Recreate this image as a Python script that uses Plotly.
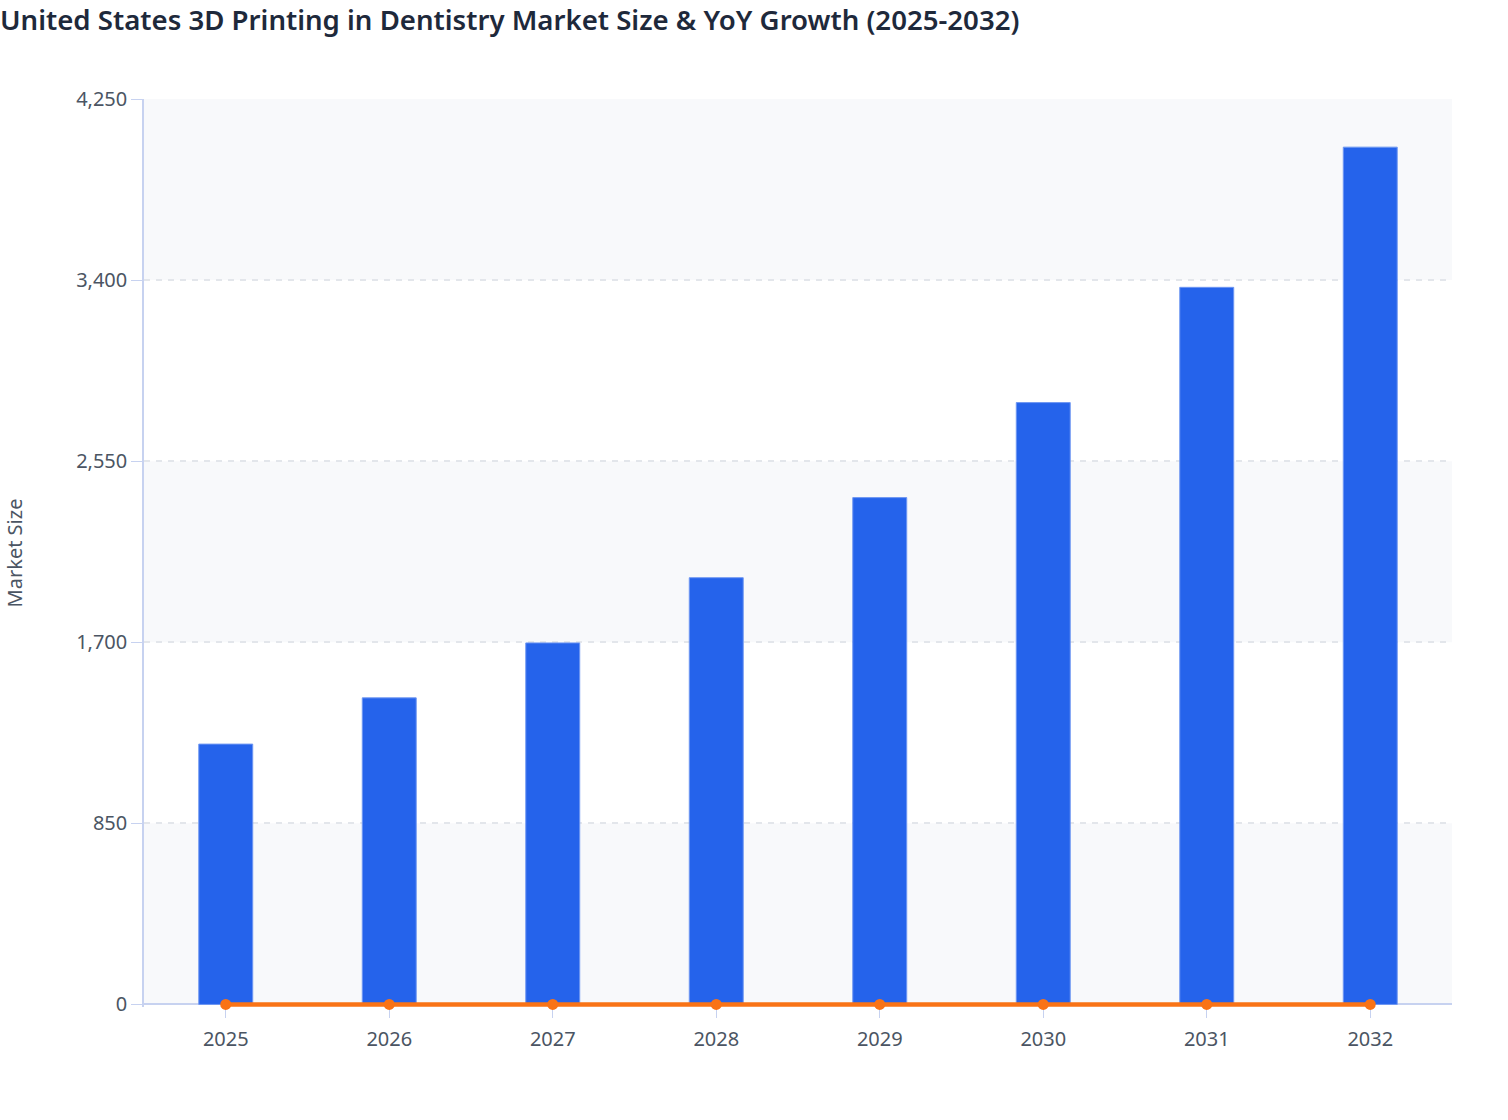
import plotly.graph_objects as go

# chart data
years = ["2025", "2026", "2027", "2028", "2029", "2030", "2031", "2032"]
market_size = [1222, 1439, 1697, 2003, 2379, 2825, 3366, 4024]
yoy_growth = [0, 0.178, 0.179, 0.180, 0.188, 0.187, 0.191, 0.196]
y_ticks = [0, 850, 1700, 2550, 3400, 4250]

fig = go.Figure()

fig.add_trace(go.Bar(
    x=years,
    y=market_size,
    name="Market Size",
    width=0.33,
    marker=dict(color="#2563eb", line=dict(color="#6f97f2", width=1)),
))

fig.add_trace(go.Scatter(
    x=years,
    y=yoy_growth,
    name="YoY Growth",
    mode="lines+markers",
    cliponaxis=False,
    line=dict(color="#f97316", width=4.5),
    marker=dict(color="#f97316", size=11),
))

# alternating light bands behind the plot
for lo, hi in [(0, 850), (1700, 2550), (3400, 4250)]:
    fig.add_shape(type="rect", xref="paper", yref="y", x0=0, x1=1, y0=lo, y1=hi,
                  fillcolor="#f8f9fb", line=dict(width=0), layer="below")

fig.update_layout(
    title=dict(
        text="United States 3D Printing in Dentistry Market Size & YoY Growth (2025-2032)",
        x=0, xref="container", xanchor="left",
        y=0.982, yref="container", yanchor="middle",
        font=dict(family="Noto Sans", size=27.6, weight=600, color="#1e293b"),
    ),
    width=1508,
    height=1120,
    # small room under zero so the growth line is not cut at the axis
    margin=dict(l=144, r=56, t=99, b=113),
    paper_bgcolor="white",
    plot_bgcolor="white",
    showlegend=False,
    font=dict(family="Noto Sans", color="#4b5563"),
    xaxis=dict(
        type="category",
        layer="below traces",
        showline=False,
        ticks="outside",
        ticklen=10,
        tickcolor="#c7d2f0",
        ticklabelstandoff=4,
        tickfont=dict(size=20, color="#4b5563"),
        showgrid=False,
    ),
    yaxis=dict(
        title=dict(text="Market Size", font=dict(size=20, color="#4b5563"), standoff=48),
        range=[-12, 4250],
        tickmode="array",
        tickvals=y_ticks,
        tickformat=",",
        layer="below traces",
        showline=True,
        linecolor="#c7d2f0",
        linewidth=1.5,
        ticks="outside",
        ticklen=11,
        tickcolor="#c7d2f0",
        tickfont=dict(size=20, color="#4b5563"),
        showgrid=True,
        gridcolor="#e3e6eb",
        gridwidth=2,
        griddash="6px,6px",
        zeroline=True,
        zerolinecolor="#c7d2f0",
        zerolinewidth=1.5,
    ),
)

fig.write_html("out.html", config={"displayModeBar": False},
               post_script="document.body.style.margin='0';")
